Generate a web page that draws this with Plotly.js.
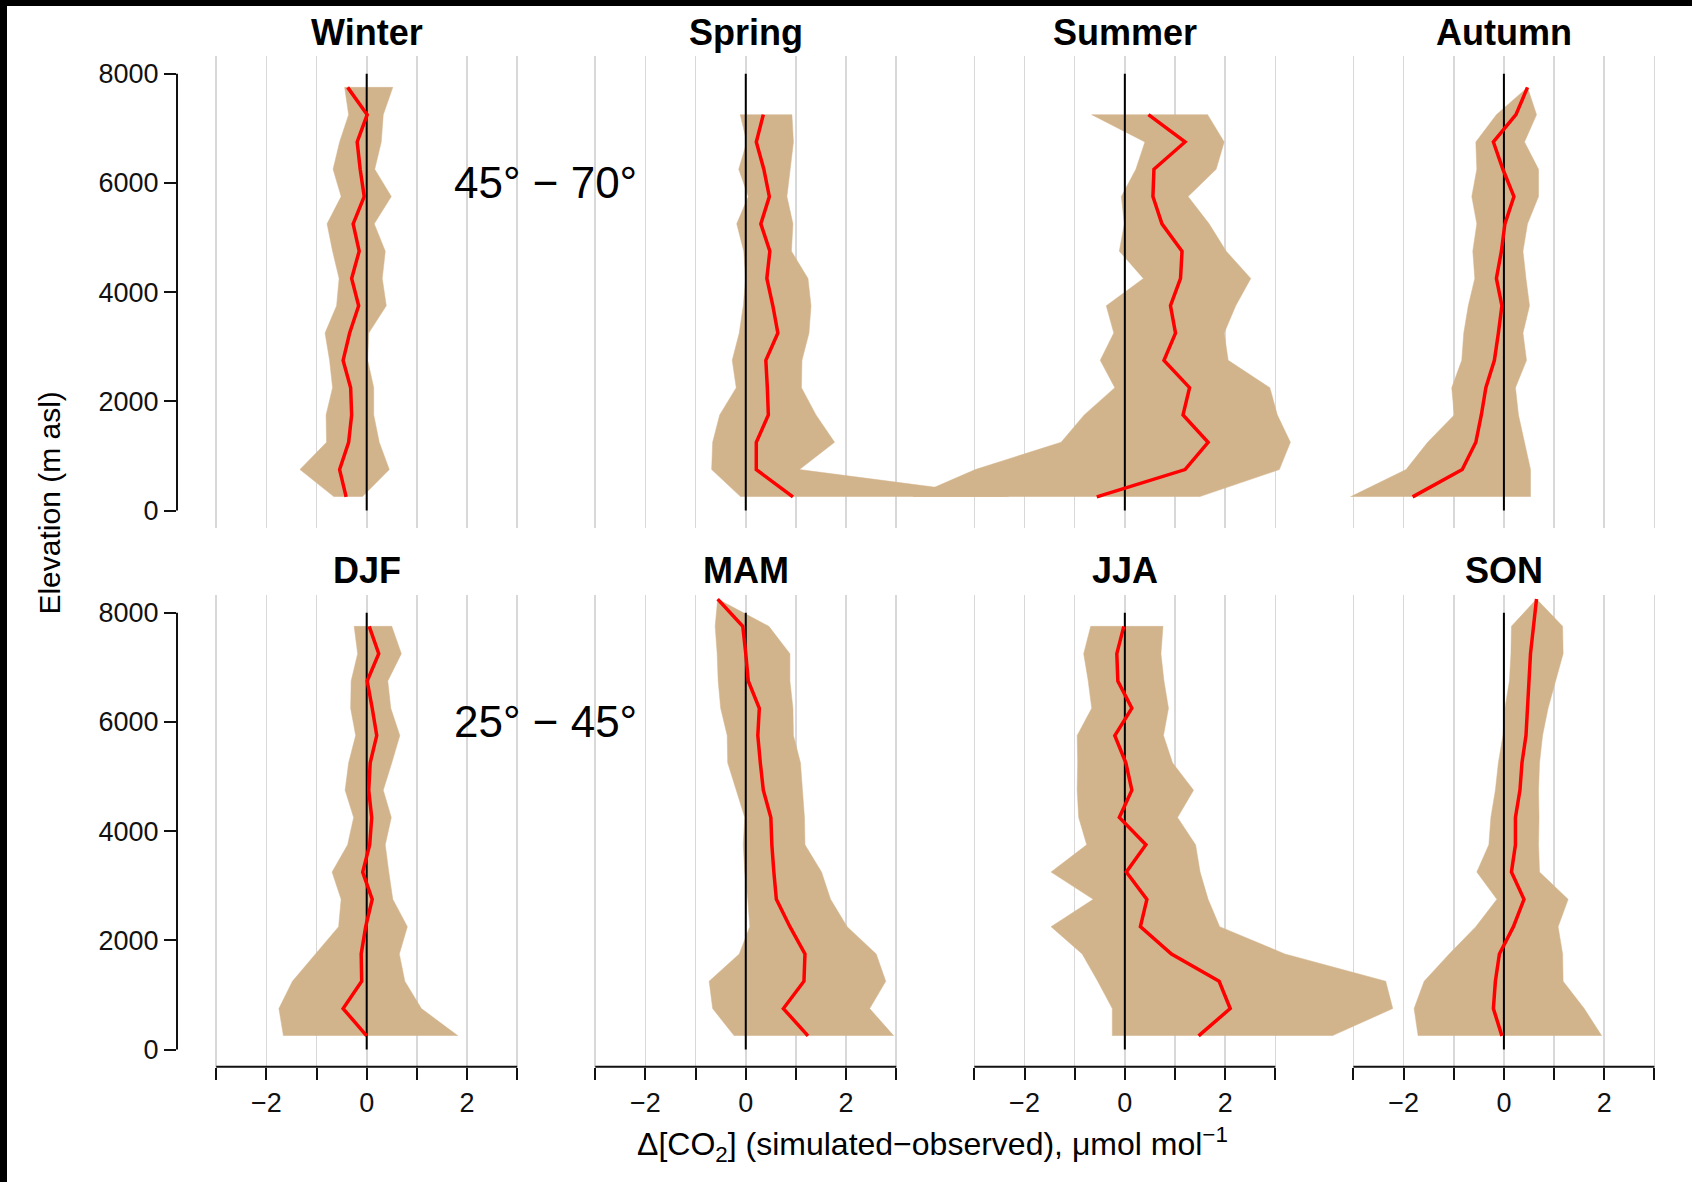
<!DOCTYPE html>
<html>
<head>
<meta charset="utf-8">
<script src="https://cdn.plot.ly/plotly-3.0.1.min.js"></script>
<style>
html,body{margin:0;padding:0;background:#000;width:1692px;height:1182px;overflow:hidden;}
#chart{position:absolute;left:7px;top:6px;width:1685px;height:1176px;background:#fff;}
</style>
</head>
<body>
<div id="chart"></div>
<script>
// ---------------- data ----------------
const elevation = [250, 750, 1250, 1750, 2250, 2750, 3250, 3750, 4250, 4750, 5250, 5750, 6250, 6750, 7250, 7750, 8250];
const panelTitles = ['Winter', 'Spring', 'Summer', 'Autumn', 'DJF', 'MAM', 'JJA', 'SON'];
const regionLabels = ['45° − 70°', '25° − 45°'];
const xTickVals = [-3, -2, -1, 0, 1, 2, 3];
const xTickText = ['', '−2', '', '0', '', '2', ''];
const yTickVals = [0, 2000, 4000, 6000, 8000];

// 45°–70° (top row); arrays run from the lowest elevation upwards
const winterLow  = [-0.65, -1.33, -0.80, -0.81, -0.68, -0.74, -0.83, -0.60, -0.55, -0.68, -0.79, -0.51, -0.67, -0.54, -0.36, -0.44];
const winterHigh = [-0.09, 0.45, 0.25, 0.14, 0.14, 0.02, 0.04, 0.39, 0.31, 0.37, 0.15, 0.49, 0.16, 0.29, 0.33, 0.52];
const winterMean = [-0.41, -0.54, -0.36, -0.30, -0.32, -0.47, -0.34, -0.16, -0.30, -0.15, -0.27, -0.05, -0.13, -0.19, 0.01, -0.38];

const springLow  = [-0.10, -0.68, -0.66, -0.52, -0.19, -0.27, -0.13, -0.05, 0.00, -0.04, -0.18, 0.05, -0.14, 0.02, -0.11];
const springHigh = [5.24, 1.07, 1.77, 1.40, 1.11, 1.12, 1.26, 1.30, 1.24, 0.91, 0.94, 0.82, 0.88, 0.95, 0.92];
const springMean = [0.94, 0.21, 0.21, 0.45, 0.43, 0.40, 0.64, 0.54, 0.42, 0.48, 0.30, 0.47, 0.36, 0.21, 0.35];

const summerLow  = [-4.23, -2.98, -1.27, -0.81, -0.20, -0.49, -0.22, -0.37, 0.37, -0.11, -0.01, -0.07, 0.22, 0.40, -0.66];
const summerHigh = [1.48, 3.08, 3.30, 3.04, 2.89, 2.06, 1.98, 2.21, 2.51, 2.02, 1.68, 1.26, 1.82, 1.98, 1.65];
const summerMean = [-0.56, 1.20, 1.66, 1.16, 1.29, 0.78, 1.01, 0.91, 1.11, 1.14, 0.74, 0.56, 0.58, 1.20, 0.47];

const autumnLow  = [-3.06, -1.95, -1.52, -0.99, -1.04, -0.84, -0.80, -0.71, -0.58, -0.62, -0.54, -0.64, -0.54, -0.56, -0.15, 0.47];
const autumnHigh = [0.53, 0.53, 0.41, 0.29, 0.23, 0.45, 0.38, 0.51, 0.44, 0.38, 0.47, 0.69, 0.69, 0.41, 0.65, 0.47];
const autumnMean = [-1.82, -0.83, -0.56, -0.45, -0.36, -0.19, -0.11, -0.04, -0.15, -0.05, 0.02, 0.20, -0.02, -0.21, 0.24, 0.47];

// 25°–45° (bottom row)
const djfLow  = [-1.66, -1.75, -1.48, -1.02, -0.56, -0.51, -0.69, -0.38, -0.26, -0.43, -0.36, -0.22, -0.32, -0.31, -0.18, -0.25];
const djfHigh = [1.82, 1.09, 0.76, 0.65, 0.81, 0.52, 0.44, 0.37, 0.49, 0.33, 0.50, 0.66, 0.48, 0.42, 0.69, 0.50];
const djfMean = [0.00, -0.47, -0.10, -0.11, -0.02, 0.11, -0.08, 0.06, 0.10, 0.04, 0.07, 0.20, 0.11, 0.01, 0.24, 0.05];

const mamLow  = [-0.23, -0.66, -0.73, -0.13, 0.08, 0.04, -0.02, -0.05, -0.02, -0.19, -0.36, -0.37, -0.50, -0.55, -0.57, -0.61, -0.56];
const mamHigh = [2.95, 2.47, 2.79, 2.60, 2.02, 1.69, 1.51, 1.18, 1.17, 1.13, 1.09, 0.95, 0.94, 0.88, 0.88, 0.46, -0.56];
const mamMean = [1.24, 0.75, 1.16, 1.18, 0.88, 0.61, 0.56, 0.52, 0.50, 0.35, 0.29, 0.24, 0.27, 0.05, 0.00, -0.06, -0.56];

const jjaLow  = [-0.25, -0.25, -0.54, -0.85, -1.47, -0.63, -1.47, -0.76, -0.92, -0.95, -0.94, -0.95, -0.66, -0.73, -0.82, -0.68];
const jjaHigh = [4.13, 5.34, 5.20, 3.19, 1.89, 1.66, 1.50, 1.41, 1.05, 1.37, 0.95, 0.77, 0.87, 0.78, 0.72, 0.76];
const jjaMean = [1.47, 2.10, 1.88, 0.93, 0.31, 0.44, 0.03, 0.42, -0.11, 0.14, 0.02, -0.20, 0.14, -0.14, -0.16, -0.02];

const sonLow  = [-1.71, -1.79, -1.59, -1.09, -0.56, -0.14, -0.54, -0.30, -0.26, -0.17, -0.11, -0.02, 0.02, 0.11, 0.14, 0.15, 0.65];
const sonHigh = [1.95, 1.60, 1.18, 1.17, 1.08, 1.28, 0.71, 0.69, 0.70, 0.69, 0.71, 0.77, 0.88, 1.03, 1.18, 1.17, 0.65];
const sonMean = [-0.04, -0.21, -0.17, -0.09, 0.19, 0.40, 0.15, 0.23, 0.23, 0.32, 0.36, 0.44, 0.47, 0.50, 0.53, 0.59, 0.65];

const panels = [
  {low: winterLow, high: winterHigh, mean: winterMean},
  {low: springLow, high: springHigh, mean: springMean},
  {low: summerLow, high: summerHigh, mean: summerMean},
  {low: autumnLow, high: autumnHigh, mean: autumnMean},
  {low: djfLow, high: djfHigh, mean: djfMean},
  {low: mamLow, high: mamHigh, mean: mamMean},
  {low: jjaLow, high: jjaHigh, mean: jjaMean},
  {low: sonLow, high: sonHigh, mean: sonMean}
];

// ---------------- layout geometry (pixels inside the chart div) ----------------
const W = 1685, H = 1176;
const mL = 170, mR = 5, mT = 50, mB = 115;
const plotW = W - mL - mR, plotH = H - mT - mB;
const firstPanelL = 209.2, panelPitch = 379.07, panelW = 301;
const unitPx = panelW / 6;
const rowTopPx = [50.4, 589.4];
const yRange = [-317, 8317];
const pxPerM = 0.0546;
const rowH = (yRange[1] - yRange[0]) * pxPerM;
const FONT = 'Liberation Sans, Arial, Helvetica, sans-serif';
const BAND = '#D2B48C';
const INK = '#111111';
const TICKFONT = 27;

function yPaper(px) { return 1 - (px - mT) / plotH; }
function axName(i) { return i === 0 ? 'x' : 'x' + (i + 1); }

const traces = [];
panels.forEach((p, i) => {
  const xa = axName(i);
  const ya = i < 4 ? 'y' : 'y2';
  const elev = elevation.slice(0, p.mean.length);
  traces.push({
    type: 'scatter', mode: 'lines', xaxis: xa, yaxis: ya,
    x: p.low.concat(p.high.slice().reverse()),
    y: elev.concat(elev.slice().reverse()),
    fill: 'toself', fillcolor: BAND, line: {color: BAND, width: 0.5},
    hoverinfo: 'skip', showlegend: false
  });
  traces.push({
    type: 'scatter', mode: 'lines', xaxis: xa, yaxis: ya,
    x: [0, 0], y: [yTickVals[0], yTickVals[yTickVals.length - 1]],
    line: {color: '#000', width: 2},
    hoverinfo: 'skip', showlegend: false
  });
  traces.push({
    type: 'scatter', mode: 'lines', xaxis: xa, yaxis: ya,
    x: p.mean, y: elev,
    line: {color: '#FF0000', width: 3.5},
    hoverinfo: 'skip', showlegend: false
  });
});

const layout = {
  width: W, height: H,
  margin: {l: mL, r: mR, t: mT, b: mB, pad: 0},
  paper_bgcolor: '#fff', plot_bgcolor: 'rgba(0,0,0,0)',
  font: {family: FONT, color: INK, size: TICKFONT},
  showlegend: false,
  shapes: [], annotations: []
};

for (let i = 0; i < 8; i++) {
  const col = i % 4, bottom = i >= 4;
  const L = firstPanelL + panelPitch * col;
  const R = L + panelW;
  const ax = {
    range: [-3 - (L - mL) / unitPx, 3 + (mL + plotW - R) / unitPx],
    tickmode: 'array', tickvals: xTickVals, ticktext: xTickText,
    showgrid: true, gridcolor: '#d8d8d8', gridwidth: 1.6,
    zeroline: false, showline: false,
    ticks: bottom ? 'outside' : '', ticklen: 12, tickwidth: 2, tickcolor: INK,
    showticklabels: bottom, tickfont: {family: FONT, size: TICKFONT, color: INK},
    anchor: bottom ? 'y2' : 'y', fixedrange: true
  };
  if (col === 0) ax.domain = [0, 1];
  else ax.overlaying = bottom ? 'x5' : 'x';
  layout[i === 0 ? 'xaxis' : 'xaxis' + (i + 1)] = ax;

  // panel title
  layout.annotations.push({
    xref: axName(i), x: 0, yref: 'paper', y: yPaper(bottom ? 564 : 26),
    text: '<b>' + panelTitles[i] + '</b>', showarrow: false,
    xanchor: 'center', yanchor: 'middle',
    font: {family: FONT, size: 36, color: '#000'}
  });
  // bottom x-axis line
  if (bottom) {
    layout.shapes.push({
      type: 'line', xref: axName(i), yref: 'y2 domain',
      x0: xTickVals[0], x1: xTickVals[xTickVals.length - 1], y0: 0, y1: 0,
      line: {color: INK, width: 2}
    });
  }
}

[0, 1].forEach(r => {
  const top = rowTopPx[r];
  layout[r === 0 ? 'yaxis' : 'yaxis2'] = {
    domain: [yPaper(top + rowH), yPaper(top)],
    range: yRange, tickmode: 'array', tickvals: yTickVals,
    ticks: 'outside', ticklen: 12, tickwidth: 2, tickcolor: INK,
    showgrid: false, zeroline: false, showline: false,
    tickfont: {family: FONT, size: TICKFONT, color: INK},
    anchor: r === 0 ? 'x' : 'x5', fixedrange: true
  };
  layout.shapes.push({
    type: 'line', xref: (r === 0 ? 'x' : 'x5') + ' domain', yref: r === 0 ? 'y' : 'y2',
    x0: 0, x1: 0, y0: yTickVals[0], y1: yTickVals[yTickVals.length - 1],
    line: {color: INK, width: 2}
  });
  layout.annotations.push({
    xref: r === 0 ? 'x' : 'x5', x: 3.56, yref: r === 0 ? 'y' : 'y2', y: 6000,
    text: regionLabels[r], showarrow: false, xanchor: 'center', yanchor: 'middle',
    font: {family: FONT, size: 44, color: '#000'}
  });
});

// axis titles
layout.annotations.push({
  xref: 'paper', x: 0.5, yref: 'paper', y: yPaper(1138),
  text: 'Δ[CO<sub>2</sub>] (simulated−observed), μmol mol<sup>−1</sup>',
  showarrow: false, xanchor: 'center', yanchor: 'middle',
  font: {family: FONT, size: 32, color: '#000'}
});
layout.annotations.push({
  xref: 'paper', x: (41.6 - mL) / plotW, yref: 'paper', y: yPaper(497),
  text: 'Elevation (m asl)', textangle: -90,
  showarrow: false, xanchor: 'center', yanchor: 'middle',
  font: {family: FONT, size: 30, color: '#000'}
});

Plotly.newPlot('chart', traces, layout, {staticPlot: true, displayModeBar: false});
</script>
</body>
</html>
